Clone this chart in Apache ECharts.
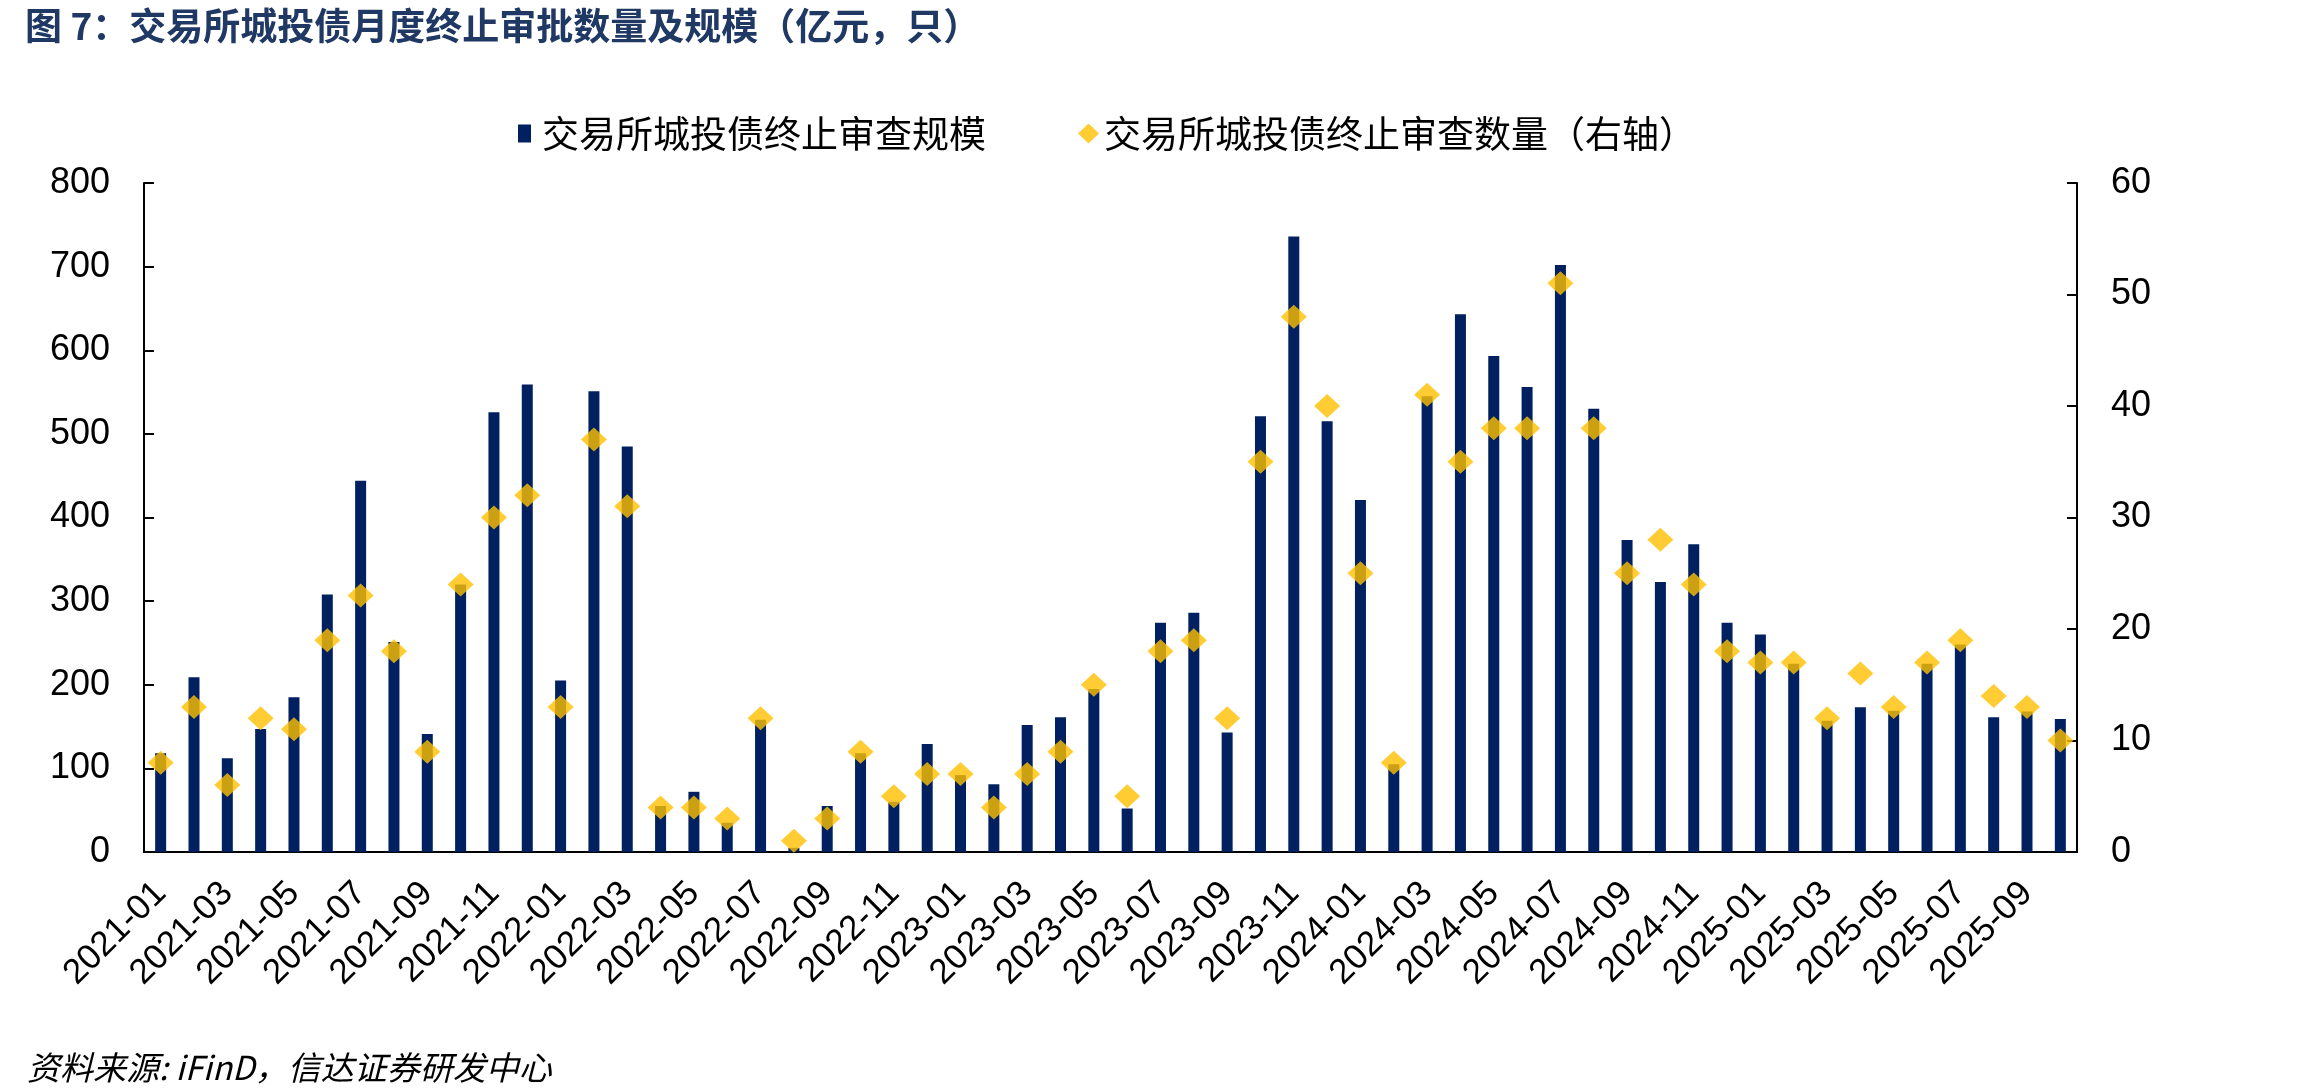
<!DOCTYPE html>
<html lang="zh">
<head>
    <meta charset="UTF-8">
    <script type="text/javascript" src="https://cdn.jsdelivr.net/npm/echarts@6.0.0/dist/echarts.min.js"></script>
    <style>
        html, body {
            margin: 0;
            overflow: hidden;
            background: #fff;
        }
        #viewport {
            position: absolute;
            left: 0px;
            top: 0px;
            width: 2303px;
            height: 1092px;
        }
    </style>
</head>
<body>
<div id="viewport"></div>
<script>
    var months = [
        '2021-01', '2021-02', '2021-03', '2021-04', '2021-05', '2021-06', '2021-07', '2021-08', '2021-09', '2021-10', '2021-11', '2021-12',
        '2022-01', '2022-02', '2022-03', '2022-04', '2022-05', '2022-06', '2022-07', '2022-08', '2022-09', '2022-10', '2022-11', '2022-12',
        '2023-01', '2023-02', '2023-03', '2023-04', '2023-05', '2023-06', '2023-07', '2023-08', '2023-09', '2023-10', '2023-11', '2023-12',
        '2024-01', '2024-02', '2024-03', '2024-04', '2024-05', '2024-06', '2024-07', '2024-08', '2024-09', '2024-10', '2024-11', '2024-12',
        '2025-01', '2025-02', '2025-03', '2025-04', '2025-05', '2025-06', '2025-07', '2025-08', '2025-09', '2025-10'
    ];

    // 终止审查规模（亿元）
    var scale = [
        118, 209, 112, 147, 185, 308, 444, 251, 141, 320, 526, 559,
        205, 551, 485, 55, 72, 35, 158, 5, 55, 118, 60, 129,
        92, 81, 152, 161, 195, 52, 274, 286, 143, 521, 736, 515,
        421, 105, 545, 643, 593, 556, 702, 530, 373, 323, 368, 274,
        260, 225, 157, 173, 169, 225, 248, 161, 168, 159
    ];

    // 终止审查数量（只，右轴）
    var count = [
        8, 13, 6, 12, 11, 19, 23, 18, 9, 24, 30, 32,
        13, 37, 31, 4, 4, 3, 12, 1, 3, 9, 5, 7,
        7, 4, 7, 9, 15, 5, 18, 19, 12, 35, 48, 40,
        25, 8, 41, 35, 38, 38, 51, 38, 25, 28, 24, 18,
        17, 17, 12, 16, 13, 17, 19, 14, 13, 10
    ];

    var nameBar = '交易所城投债终止审查规模';
    var nameDot = '交易所城投债终止审查数量（右轴）';

    var fontNum = "'Liberation Sans', Arial, 'Noto Sans CJK SC', sans-serif";
    var fontCn = "'Noto Sans CJK SC', 'Liberation Sans', sans-serif";

    var myChart = echarts.init(document.getElementById('viewport'));

    var option = {
        animation: false,
        backgroundColor: '#fff',
        title: [{
            text: '图 7：交易所城投债月度终止审批数量及规模（亿元，只）',
            left: 20,
            top: 2,
            textStyle: {
                color: '#1F3864',
                fontSize: 37,
                fontWeight: 'bold',
                fontFamily: fontCn
            }
        }, {
            text: '资料来源: iFinD，信达证券研发中心',
            left: 22,
            top: 1046,
            textStyle: {
                color: '#000',
                fontSize: 33,
                fontWeight: 'normal',
                fontStyle: 'italic',
                fontFamily: fontCn
            }
        }],
        legend: [{
            data: [{ name: nameBar, icon: 'rect' }],
            left: 513,
            top: 110,
            itemWidth: 13,
            itemHeight: 18,
            textStyle: { fontSize: 37, color: '#000', fontFamily: fontCn, padding: [0, 0, 0, 6] }
        }, {
            data: [{ name: nameDot, icon: 'diamond' }],
            left: 1073,
            top: 110,
            itemWidth: 21,
            itemHeight: 20,
            textStyle: { fontSize: 37, color: '#000', fontFamily: fontCn }
        }],
        grid: {
            left: 144,
            right: 226,
            top: 183,
            bottom: 240,
            containLabel: false
        },
        xAxis: {
            type: 'category',
            data: months,
            boundaryGap: true,
            axisLine: { lineStyle: { color: '#000', width: 2 } },
            axisTick: { interval: 1, inside: true, length: 8, lineStyle: { color: '#000', width: 2 } },
            axisLabel: {
                interval: 1,
                rotate: 45,
                margin: 36,
                fontSize: 35,
                color: '#000',
                fontFamily: fontNum
            },
            splitLine: { show: false }
        },
        yAxis: [{
            type: 'value',
            min: 0,
            max: 800,
            interval: 100,
            axisLine: { show: true, lineStyle: { color: '#000', width: 2 } },
            axisTick: { show: true, inside: true, length: 10, lineStyle: { color: '#000', width: 2 } },
            axisLabel: { margin: 34, fontSize: 36, color: '#000', fontFamily: fontNum },
            splitLine: { show: false }
        }, {
            type: 'value',
            min: 0,
            max: 60,
            interval: 10,
            position: 'right',
            axisLine: { show: true, lineStyle: { color: '#000', width: 2 } },
            axisTick: { show: true, inside: true, length: 10, lineStyle: { color: '#000', width: 2 } },
            axisLabel: { margin: 34, fontSize: 36, color: '#000', fontFamily: fontNum },
            splitLine: { show: false }
        }],
        series: [{
            name: nameBar,
            type: 'bar',
            data: scale,
            barWidth: 11,
            itemStyle: { color: '#002060' }
        }, {
            name: nameDot,
            type: 'scatter',
            yAxisIndex: 1,
            data: count,
            symbol: 'diamond',
            symbolSize: [26, 24],
            itemStyle: { color: '#FFC000' },
            z: 5
        }]
    };

    myChart.setOption(option);
</script>
</body>
</html>
